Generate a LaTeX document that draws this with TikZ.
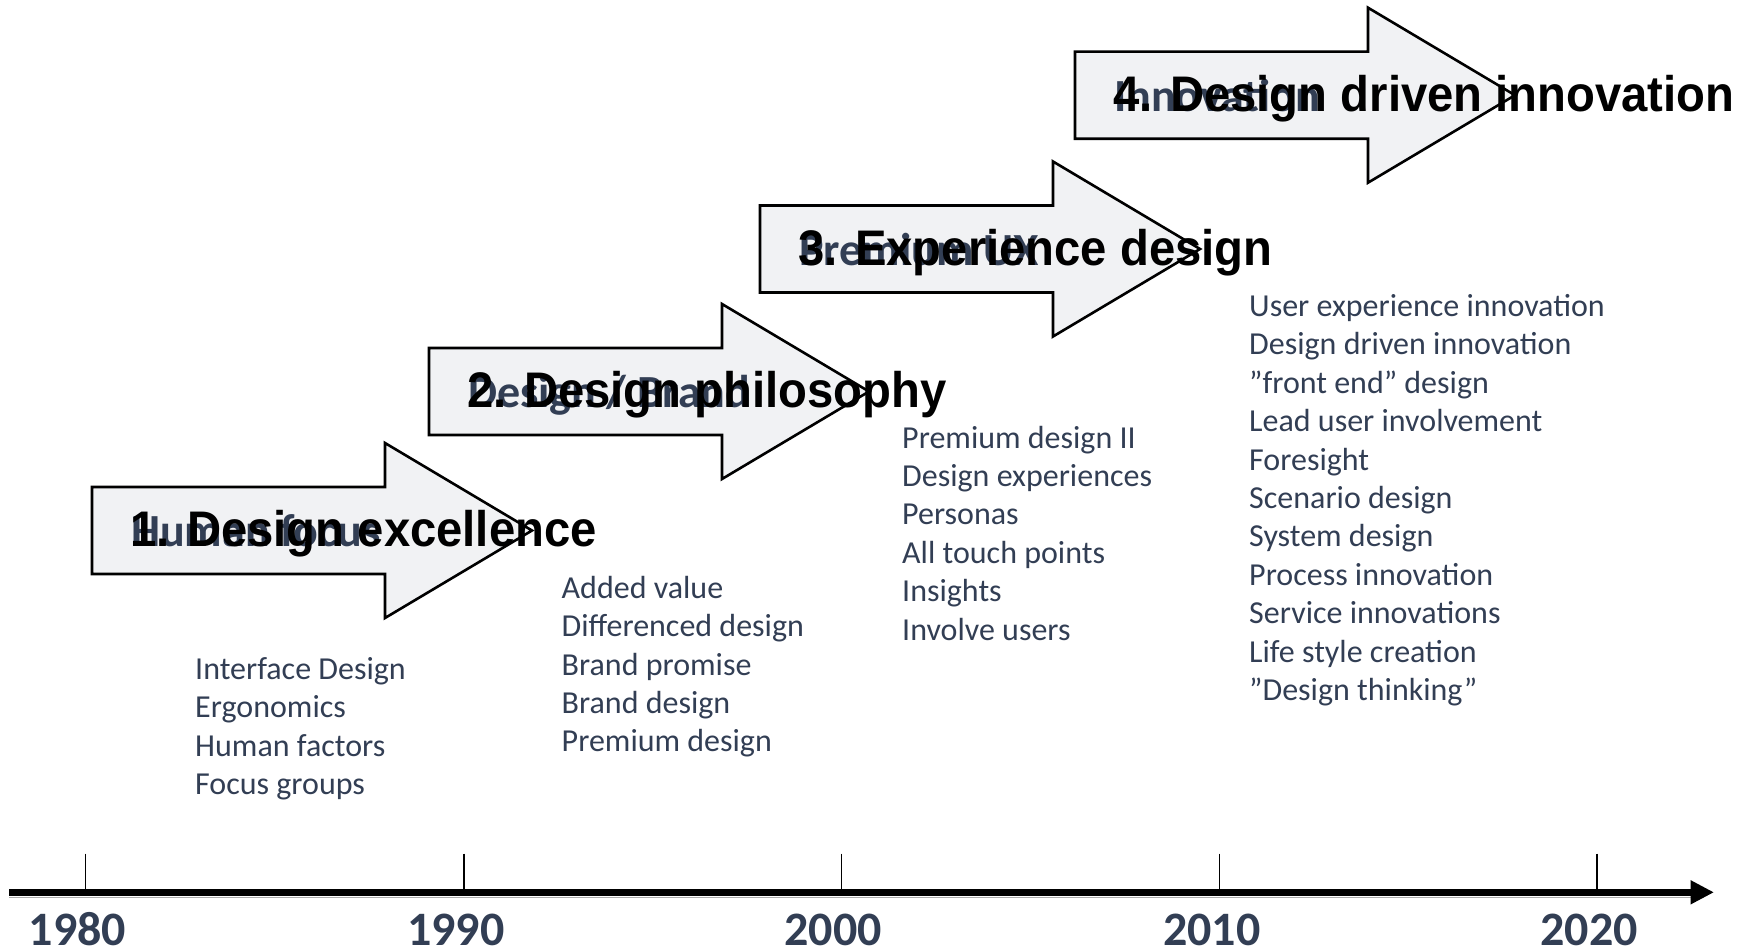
\documentclass[tikz,border=0pt]{standalone}
\usepackage{fontspec}
\usepackage{graphicx}
\usetikzlibrary{arrows.meta}
\newfontfamily\carl{Carlito}
\newfontfamily\lsans{Liberation Sans}
\definecolor{navy}{HTML}{323E54}
\definecolor{arrfill}{HTML}{F1F2F4}
\begin{document}
\begin{tikzpicture}[x=1pt,y=-1pt,
  bigarrow/.style={draw=black, line width=2.6pt, fill=arrfill, line join=miter},
  mainlbl/.style={anchor=base west, inner sep=0pt, font=\lsans\bfseries\fontsize{50}{60}\selectfont, text=black},
  hidlbl/.style={anchor=base west, inner sep=0pt, font=\carl\bfseries\fontsize{46}{55}\selectfont, text=navy},
  listtxt/.style={anchor=base west, inner sep=0pt, font=\carl\fontsize{32}{38.4}\selectfont, text=navy},
  yeartxt/.style={anchor=base, inner sep=0pt, font=\carl\bfseries\fontsize{48}{55}\selectfont, text=navy},
  tick/.style={line width=1.4pt, draw=black},
]
\useasboundingbox (0,0) rectangle (1761,950);

% ---------- stage arrows ----------
\foreach \L/\T/\n/\hid/\lbl in {
  92/487/1/{Human focus}/{1. Design excellence},
  429/348/2/{Design / Brand}/{2. Design philosophy},
  760/205.5/3/{Premium UX}/{3. Experience design},
  1075/51.7/4/{Innovation}/{4. Design driven innovation}}{
  \draw[bigarrow] (\L,\T) -- ++(293,0) -- ++(0,-44) -- ++(147,87.5)
      -- ++(-147,87.5) -- ++(0,-44) -- ++(-293,0) -- cycle;
  \node[hidlbl] (hid\n) at (\L+39,\T+59.5) {\hid};
  \node[mainlbl] (stage\n) at (\L+38,\T+59.5) {\scalebox{0.945}[1]{\lbl}};
}

% ---------- lists ----------
\node[listtxt] (list1) at (195,679.3) {\begin{tabular}[t]{@{}l@{}}
Interface Design\\Ergonomics\\Human factors\\Focus groups\end{tabular}};
\node[listtxt] (list2) at (561.5,598.3) {\begin{tabular}[t]{@{}l@{}}
Added value\\Differenced design\\Brand promise\\Brand design\\Premium design\end{tabular}};
\node[listtxt] (list3) at (902,448) {\begin{tabular}[t]{@{}l@{}}
Premium design II\\Design experiences\\Personas\\All touch points\\Insights\\Involve users\end{tabular}};
\node[listtxt] (list4) at (1249,316.5) {\begin{tabular}[t]{@{}l@{}}
User experience innovation\\Design driven innovation\\”front end” design\\Lead user involvement\\Foresight\\Scenario design\\System design\\Process innovation\\Service innovations\\Life style creation\\”Design thinking”\end{tabular}};

% ---------- timeline ----------
\coordinate (tlstart) at (9,892.3);
\coordinate (tlend) at (1714,892.3);
\coordinate (shstart) at (9,897.8);
\coordinate (shend) at (1691,897.8);
\draw[gray!65, line width=1.2pt] (shstart) -- (shend);
\draw[line width=7.3pt, -{Triangle[length=23.5pt,width=22.6pt]}] (tlstart) -- (tlend);

\foreach \x/\yr in {85.4/1980, 463.8/1990, 841.2/2000, 1219.7/2010, 1597/2020}{
  \coordinate (tk\yr) at (\x,853.6);
  \draw[tick] (tk\yr) -- (tk\yr |- tlstart);
  \node[yeartxt] (yr\yr) at (\x-8,945.5) {\yr};
}
\end{tikzpicture}
\end{document}
